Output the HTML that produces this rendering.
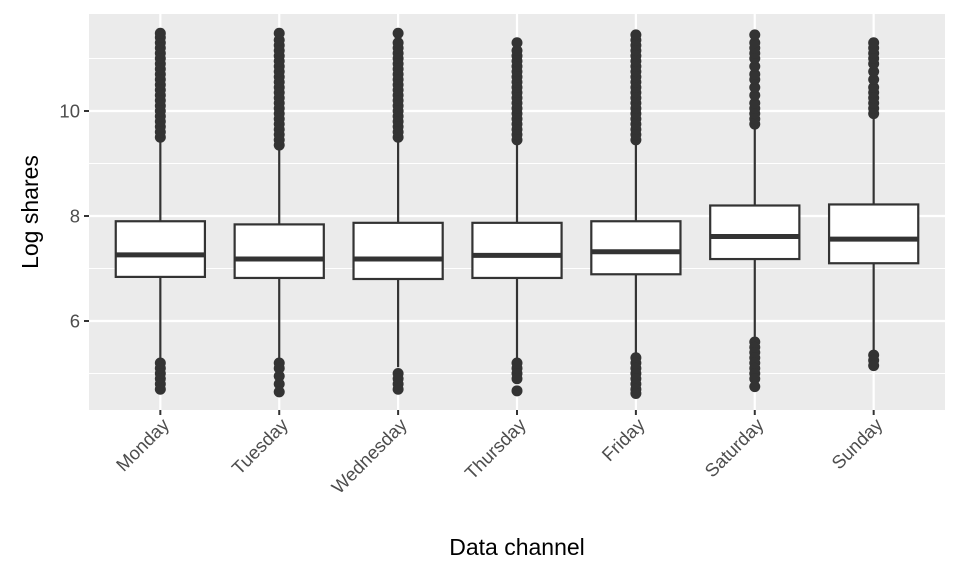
<!DOCTYPE html>
<html><head><meta charset="utf-8"><style>
html,body{margin:0;padding:0;background:#fff;}
svg{display:block;font-family:"Liberation Sans",Arial,sans-serif;}
</style></head><body>
<svg id="chart" width="960" height="576"></svg>
<script>
const categories=["Monday","Tuesday","Wednesday","Thursday","Friday","Saturday","Sunday"];
const q1=[6.84,6.82,6.80,6.82,6.89,7.18,7.10];
const medians=[7.26,7.18,7.18,7.25,7.32,7.61,7.56];
const q3=[7.90,7.84,7.87,7.87,7.90,8.20,8.22];
const whiskLo=[5.25,5.22,5.12,5.22,5.35,5.70,5.40];
const whiskHi=[9.48,9.30,9.45,9.40,9.40,9.70,9.90];
const outHigh=[
 [9.5,9.6,9.7,9.8,9.9,10.0,10.1,10.2,10.3,10.4,10.5,10.6,10.7,10.8,10.9,11.0,11.1,11.2,11.3,11.4,11.48],
 [9.35,9.45,9.55,9.65,9.75,9.85,9.95,10.05,10.15,10.25,10.35,10.45,10.55,10.65,10.75,10.85,10.95,11.05,11.15,11.25,11.35,11.48],
 [9.5,9.6,9.7,9.8,9.9,10.0,10.1,10.2,10.3,10.4,10.5,10.6,10.7,10.8,10.9,11.0,11.1,11.2,11.3,11.48],
 [9.45,9.55,9.65,9.75,9.85,9.95,10.05,10.15,10.25,10.35,10.45,10.55,10.65,10.75,10.85,10.95,11.05,11.15,11.3],
 [9.45,9.55,9.65,9.75,9.85,9.95,10.05,10.15,10.25,10.35,10.45,10.55,10.65,10.75,10.85,10.95,11.05,11.15,11.25,11.35,11.45],
 [9.75,9.85,9.95,10.05,10.15,10.3,10.45,10.6,10.7,10.85,11.0,11.1,11.2,11.3,11.45],
 [9.95,10.05,10.15,10.25,10.35,10.45,10.6,10.75,10.9,11.0,11.1,11.2,11.3]
];
const outLow=[
 [5.2,5.1,5.0,4.9,4.8,4.7],
 [5.2,5.1,4.95,4.8,4.65],
 [5.0,4.9,4.8,4.7],
 [5.2,5.1,5.0,4.9,4.67],
 [5.3,5.2,5.1,5.0,4.9,4.8,4.7,4.62],
 [5.6,5.5,5.4,5.3,5.2,5.1,5.0,4.9,4.75],
 [5.35,5.25,5.15]
];
const yTicks=[6,8,10];
const yMinor=[5,7,9,11];
const NS="http://www.w3.org/2000/svg";
const svg=document.getElementById('chart');
const L=89,R=945,T=14,B=410;
const step=(R-L)/7.2;
function xs(i){return L+(i+0.6)*step;}
function ys(v){return 321-(v-6)*52.5;}
function mk(tag,attrs,parent){const e=document.createElementNS(NS,tag);for(const k in attrs)e.setAttribute(k,attrs[k]);(parent||svg).appendChild(e);return e;}
const panel=mk('rect',{x:L,y:T,width:R-L,height:B-T,fill:'#EBEBEB'});


yMinor.forEach(v=>{const l=mk('line',{x1:L,x2:R,y1:ys(v),y2:ys(v),stroke:'#fff','stroke-width':1});

});
yTicks.forEach(v=>{const l=mk('line',{x1:L,x2:R,y1:ys(v),y2:ys(v),stroke:'#fff','stroke-width':2.2});


const t=mk('line',{x1:L-5,x2:L,y1:ys(v),y2:ys(v),stroke:'#333','stroke-width':2});


const tx=mk('text',{x:L-9,y:ys(v)+6.5,'text-anchor':'end','font-size':18.5,fill:'#4D4D4D'});tx.textContent=v;

});
const bw=step*0.75;
categories.forEach((c,i)=>{const x=xs(i);
 const g=mk('line',{x1:x,x2:x,y1:T,y2:B,stroke:'#fff','stroke-width':2.2});
 
 
 const grp=mk('g',{});
 
 
 mk('line',{x1:x,x2:x,y1:ys(whiskHi[i]),y2:ys(q3[i]),stroke:'#333','stroke-width':2.2},grp);
 mk('line',{x1:x,x2:x,y1:ys(q1[i]),y2:ys(whiskLo[i]),stroke:'#333','stroke-width':2.2},grp);
 mk('rect',{x:x-bw/2,y:ys(q3[i]),width:bw,height:ys(q1[i])-ys(q3[i]),fill:'#fff',stroke:'#333','stroke-width':2.2},grp);
 mk('line',{x1:x-bw/2,x2:x+bw/2,y1:ys(medians[i]),y2:ys(medians[i]),stroke:'#333','stroke-width':5},grp);
 outHigh[i].concat(outLow[i]).forEach(v=>{const p=mk('circle',{cx:x,cy:ys(v),r:5.5,fill:'#333'},grp);
  
  });
 const t=mk('line',{x1:x,x2:x,y1:B,y2:B+5,stroke:'#333','stroke-width':2});
 
 
 const tx=mk('text',{x:x+10,y:B+16,'text-anchor':'end','font-size':18.5,fill:'#4D4D4D',transform:`rotate(-45 ${x+10} ${B+16})`});tx.textContent=c;
 
 
});
const yt=mk('text',{x:38,y:(T+B)/2,'text-anchor':'middle','font-size':23,fill:'#000',transform:`rotate(-90 38 ${(T+B)/2})`});yt.textContent='Log shares';


const xt=mk('text',{x:(L+R)/2,y:555,'text-anchor':'middle','font-size':23,fill:'#000'});xt.textContent='Data channel';


</script>
</body></html>
